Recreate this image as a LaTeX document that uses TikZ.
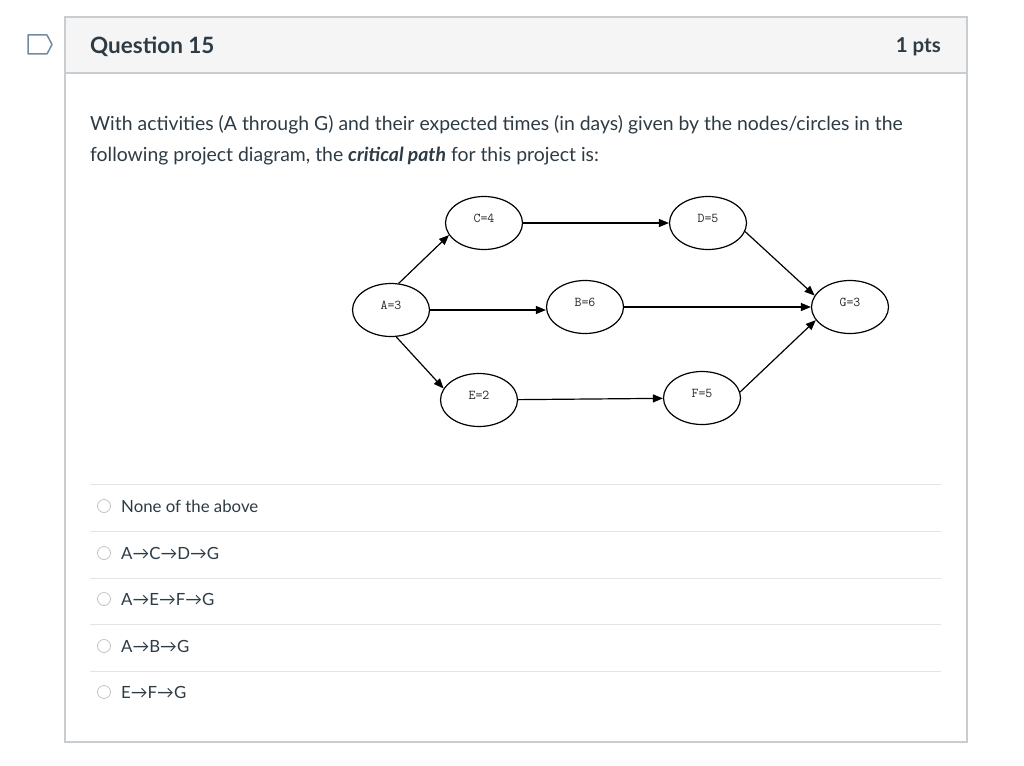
\documentclass[tikz,border=0pt]{standalone}
\usepackage{fontspec}
\setmainfont{Lato}
\usetikzlibrary{arrows.meta,shapes.geometric}
\definecolor{ink}{HTML}{2D3B45}
\definecolor{frame}{HTML}{C7CDD1}
\definecolor{headbg}{HTML}{F5F5F5}
\definecolor{rulegray}{HTML}{E2E5E7}
\definecolor{flagblue}{HTML}{6F8CA3}
\definecolor{radiogray}{HTML}{BFC4C8}

\begin{document}
\begin{tikzpicture}[x=1pt,y=-1pt, every node/.style={inner sep=0pt,text=ink},
  act/.style={draw,ellipse,line width=1.2pt,minimum width=77pt,minimum height=53pt,
    text depth=9pt,font=\ttfamily\fontsize{13.5}{15}\selectfont,text=black!85},
  link/.style={line width=1.2pt,-{Triangle[length=10pt,width=8pt]}},
  answer/.style={anchor=base west,font=\fontsize{16.8}{19}\selectfont}]
\useasboundingbox (0,0) rectangle (1024,765);
% question frame
\draw[frame,line width=1.2pt] (65,17) rectangle (967,742);
\draw[frame,line width=1.2pt,fill=headbg] (65,17) rectangle (967,73);
\draw[flagblue,line width=1.5pt,line join=round] (28,35) -- (47,35) -- (52,44.5) -- (47,54) -- (28,54) -- cycle;
\node[anchor=base west,font=\bfseries\fontsize{22.5}{24}\selectfont] (title) at (90,54) {Question 15};
\node[anchor=base east,font=\bfseries\fontsize{20.5}{24}\selectfont] (pts) at (941,53) {1 pts};
\node[anchor=base west,font=\fontsize{19.4}{30}\selectfont] (q1) at (90,131) {With activities (A through G) and their expected times (in days) given by the nodes/circles in the};
\node[anchor=base west,font=\fontsize{19.4}{30}\selectfont] (q2) at (90,161) {following project diagram, the \textbf{\textit{critical path}} for this project is:};
% project diagram
\node[act] (A) at (391,310) {A=3};
\node[act] (C) at (484,223) {C=4};
\node[act] (B) at (585,307) {B=6};
\node[act] (E) at (479,400) {E=2};
\node[act] (D) at (708,223) {D=5};
\node[act] (F) at (702,398) {F=5};
\node[act] (G) at (850,307) {G=3};
\draw[link] (A.74) -- (C.199);
\draw[link] (A.east) -- (B.west |- A.east);
\draw[link] (A.281) -- (E.162);
\draw[link] (C) -- (D);
\draw[link] (B) -- (G);
\draw[link] (E) -- (F);
\draw[link] (D.347) -- (G.162);
\draw[link] (F.9) -- (G.201);
% answers
\foreach \y in {484,531,578,624,671}
  \draw[rulegray,line width=1pt] (90,\y) -- (941,\y);
\foreach \y in {506,553,599,646,692}
  \draw[radiogray,line width=0.8pt,fill=white] (104,\y) circle (6.5);
\node[answer] (o1) at (121,512) {None of the above};
\node[answer] (o2) at (121,559) {A→C→D→G};
\node[answer] (o3) at (121,605) {A→E→F→G};
\node[answer] (o4) at (121,652) {A→B→G};
\node[answer] (o5) at (121,698) {E→F→G};
\end{tikzpicture}
\end{document}
